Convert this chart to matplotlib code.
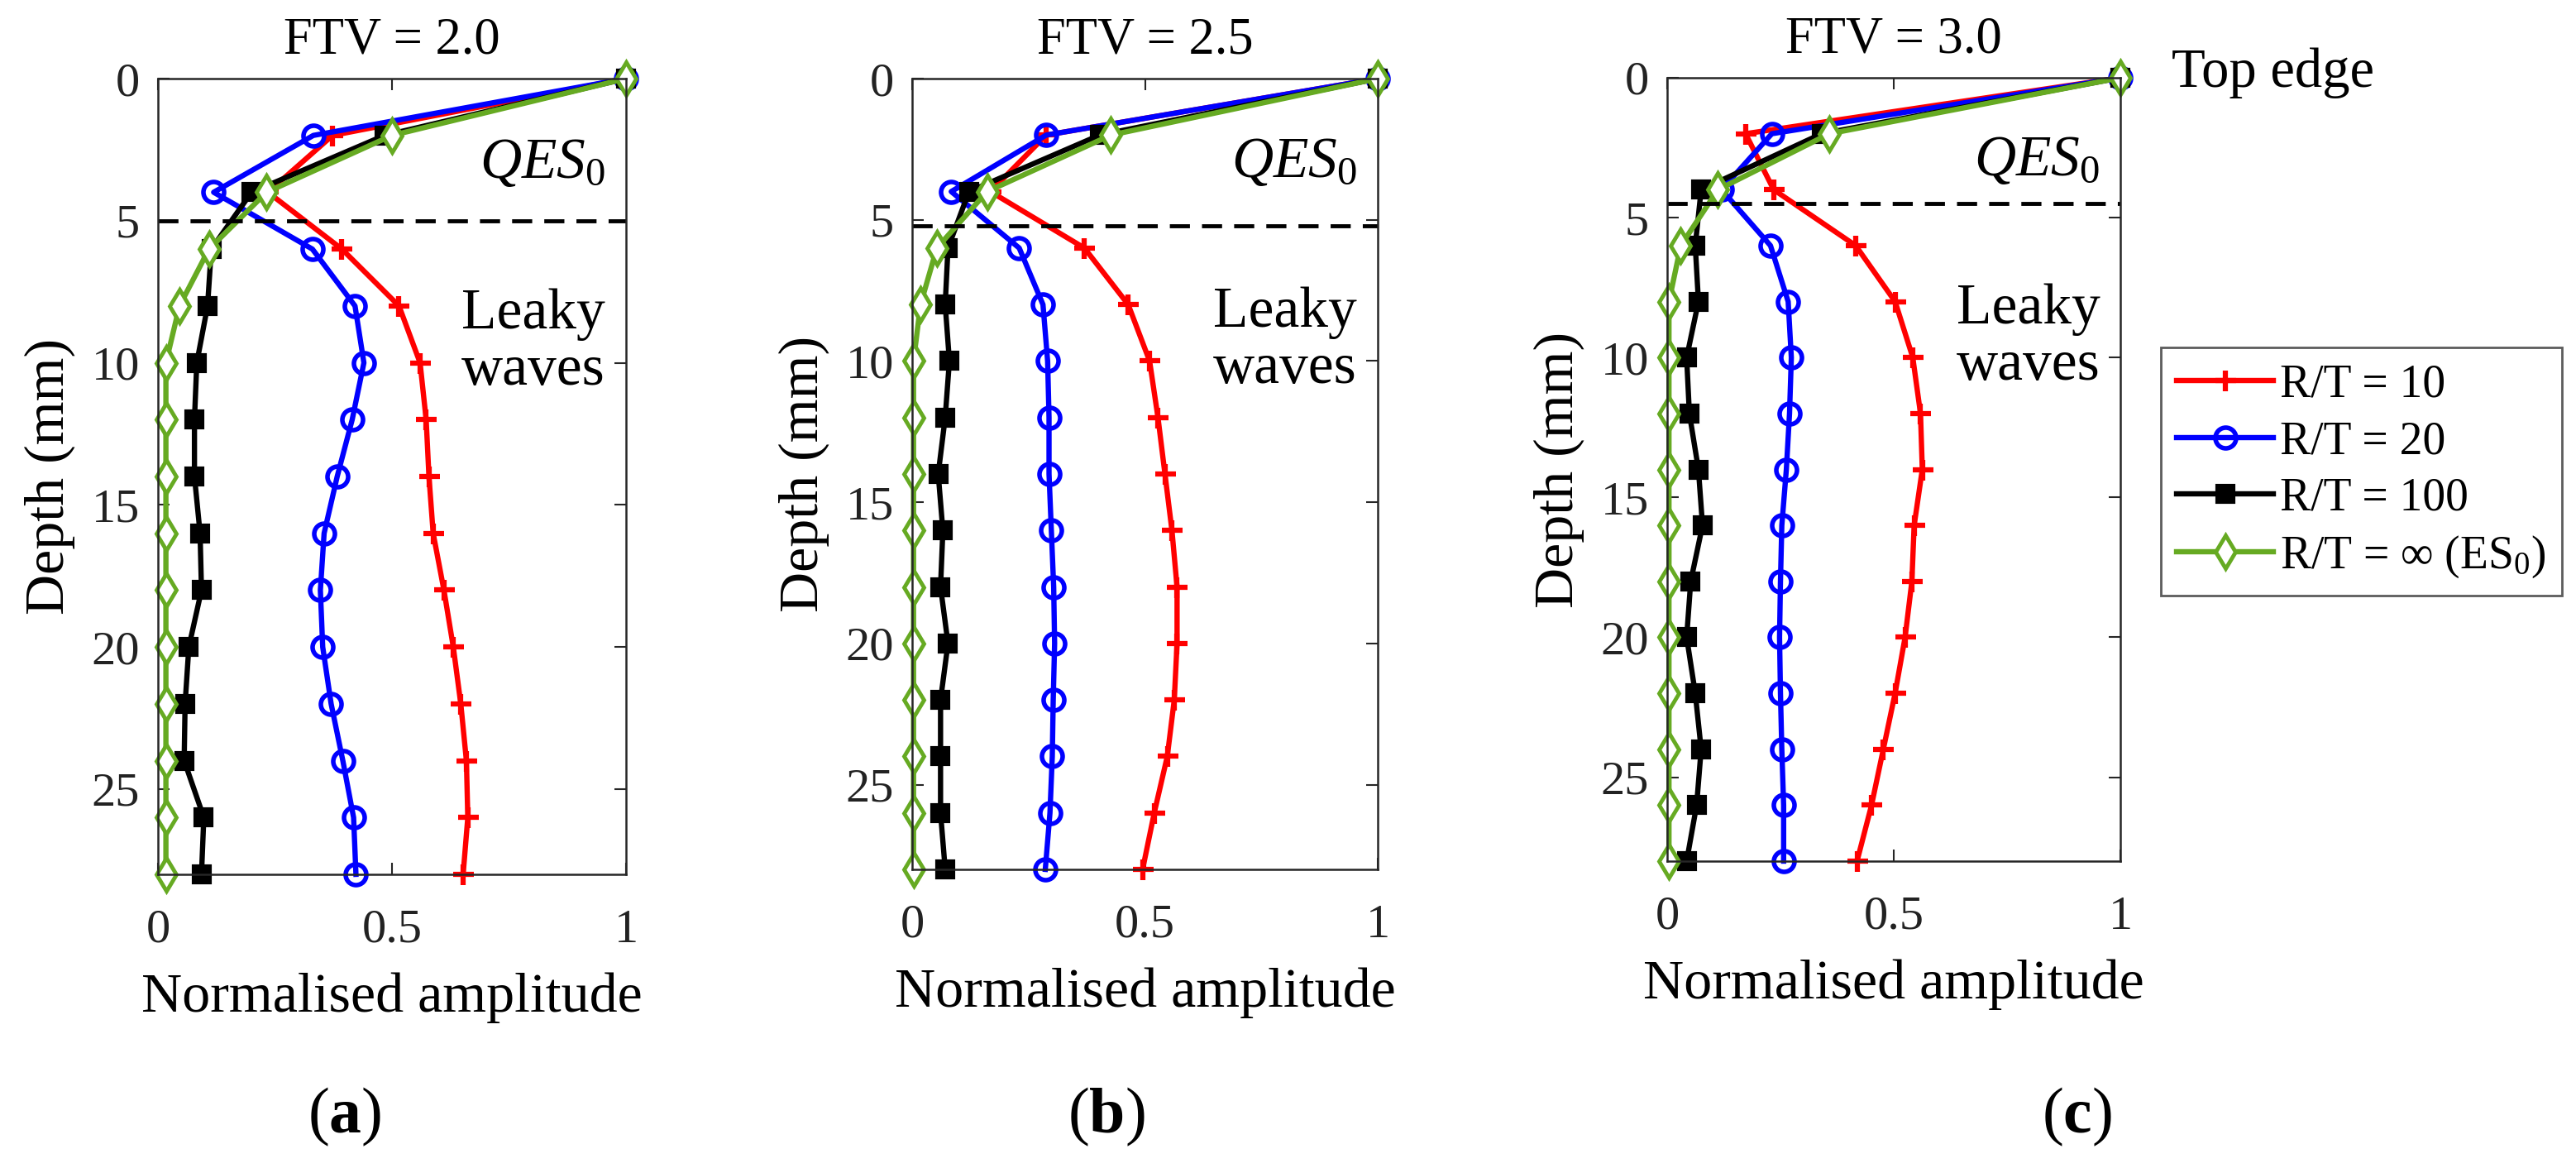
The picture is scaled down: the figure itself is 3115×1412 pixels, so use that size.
import matplotlib.pyplot as plt
import numpy as np

plt.rcParams['font.family'] = ['Liberation Serif', 'DejaVu Serif']
plt.rcParams['mathtext.fontset'] = 'custom'
plt.rcParams['mathtext.rm'] = 'Liberation Serif'
plt.rcParams['mathtext.it'] = 'Liberation Serif:italic'
plt.rcParams['mathtext.bf'] = 'Liberation Serif:bold'

depth = [0, 2, 4, 6, 8, 10, 12, 14, 16, 18, 20, 22, 24, 26, 28]

# FTV = 2.0
a_red = [1, 0.373, 0.235, 0.393, 0.515, 0.56, 0.573, 0.579, 0.588, 0.611, 0.631, 0.647, 0.659, 0.662, 0.652]
a_blue = [1, 0.332, 0.119, 0.33, 0.421, 0.44, 0.415, 0.383, 0.355, 0.347, 0.352, 0.37, 0.395, 0.418, 0.423]
a_black = [1, 0.484, 0.2, 0.114, 0.106, 0.083, 0.078, 0.078, 0.09, 0.093, 0.066, 0.058, 0.056, 0.098, 0.093]
a_green = [1, 0.5, 0.232, 0.109, 0.046, 0.017, 0.017, 0.017, 0.017, 0.017, 0.017, 0.017, 0.017, 0.017, 0.017]

# FTV = 2.5
b_red = [1, 0.288, 0.168, 0.37, 0.464, 0.51, 0.528, 0.543, 0.558, 0.569, 0.569, 0.563, 0.548, 0.52, 0.495]
b_blue = [1, 0.288, 0.084, 0.23, 0.281, 0.291, 0.294, 0.294, 0.299, 0.304, 0.306, 0.303, 0.301, 0.296, 0.286]
b_black = [1, 0.403, 0.122, 0.077, 0.071, 0.08, 0.071, 0.056, 0.066, 0.061, 0.077, 0.061, 0.061, 0.061, 0.071]
b_green = [1, 0.427, 0.161, 0.053, 0.018, 0.003, 0.003, 0.003, 0.003, 0.003, 0.003, 0.003, 0.003, 0.003, 0.003]

# FTV = 3.0
c_red = [1, 0.173, 0.235, 0.416, 0.503, 0.542, 0.559, 0.563, 0.545, 0.54, 0.525, 0.503, 0.477, 0.451, 0.419]
c_blue = [1, 0.231, 0.12, 0.228, 0.267, 0.274, 0.27, 0.263, 0.253, 0.25, 0.248, 0.25, 0.253, 0.257, 0.257]
c_black = [1, 0.341, 0.075, 0.062, 0.069, 0.043, 0.049, 0.069, 0.078, 0.052, 0.043, 0.062, 0.075, 0.065, 0.043]
c_green = [1, 0.358, 0.112, 0.03, 0.004, 0.004, 0.004, 0.004, 0.004, 0.004, 0.004, 0.004, 0.004, 0.004, 0.004]

titles = ['FTV = 2.0', 'FTV = 2.5', 'FTV = 3.0']
boundary = [5.0, 5.2, 4.5]  # dashed line depth
panel_tags = ['a', 'b', 'c']
labels = ['R/T = 10', 'R/T = 20', 'R/T = 100', 'R/T = \u221e (ES$_0$)']

data = [(a_red, a_blue, a_black, a_green),
        (b_red, b_blue, b_black, b_green),
        (c_red, c_blue, c_black, c_green)]

W, H = 3115, 1412
fig = plt.figure(figsize=(W / 100, H / 100), dpi=100)

# axes boxes in pixels: left, right, top, bottom
boxes = [(191, 757, 95, 1057), (1103, 1666, 95, 1051), (2016, 2564, 94, 1041)]
tag_x = [417, 1338, 2511]

green = '#66aa22'
styles = [dict(color='red', marker='+', ms=18, mew=4.5),
          dict(color='blue', marker='o', ms=18, mew=4, mfc='none'),
          dict(color='black', marker='s', ms=14, mew=3, mfc='black'),
          dict(color=green, marker='d', ms=20, mew=3.5, mfc='white')]

lines = []
for i in range(3):
    l, r, t, b = boxes[i]
    ax = fig.add_axes([l / W, 1 - b / H, (r - l) / W, (b - t) / H])
    lines = []
    for vals, st, lab in zip(data[i], styles, labels):
        ln, = ax.plot(vals, depth, lw=4.6, clip_on=False, label=lab, **st)
        lines.append(ln)
    ax.axhline(boundary[i], color='black', ls='--', lw=3.5, dashes=(5, 3))
    ax.set_xlim(0, 1)
    ax.set_ylim(28, 0)
    ax.set_xticks([0, 0.5, 1])
    ax.set_xticklabels(['0', '0.5', '1'])
    ax.set_yticks([0, 5, 10, 15, 20, 25])
    ax.tick_params(direction='in', top=True, right=True, length=10, width=1.5,
                   labelsize=42, colors='#262626')
    ax.tick_params(axis='x', pad=30, labelcolor='#222222')
    ax.tick_params(axis='y', pad=16, labelcolor='#222222')
    for sp in ax.spines.values():
        sp.set_linewidth(1.8)
        sp.set_color('#262626')
    ax.set_title(titles[i], fontsize=45, pad=22)
    ax.set_xlabel('Normalised amplitude', fontsize=49, labelpad=18)
    ax.set_ylabel('Depth (mm)', fontsize=49, labelpad=14)
    ax.text(0.955, 3.0, '$QES_0$', fontsize=50, ha='right', va='center')
    ax.text(0.955, 9.3, 'Leaky\nwaves', fontsize=50, ha='right', va='center',
            linespacing=1.1)
    fig.text(tag_x[i] / W, 1 - 1350 / H, '($\\mathbf{' + panel_tags[i] + '}$)',
             fontsize=56, ha='center', va='center')

fig.text(2626 / W, 1 - 88 / H, 'Top edge', fontsize=48, ha='left', va='center')

leg = fig.legend(handles=lines, loc='upper left', bbox_to_anchor=(2613 / W, 1 - 420 / H),
                 fontsize=40, frameon=True, fancybox=False, edgecolor='#333333',
                 handlelength=2.1, handletextpad=0.15, labelspacing=0.3,
                 borderpad=0.35, borderaxespad=0)
leg.get_frame().set_linewidth(2)

fig.savefig('out.png', dpi=100)
